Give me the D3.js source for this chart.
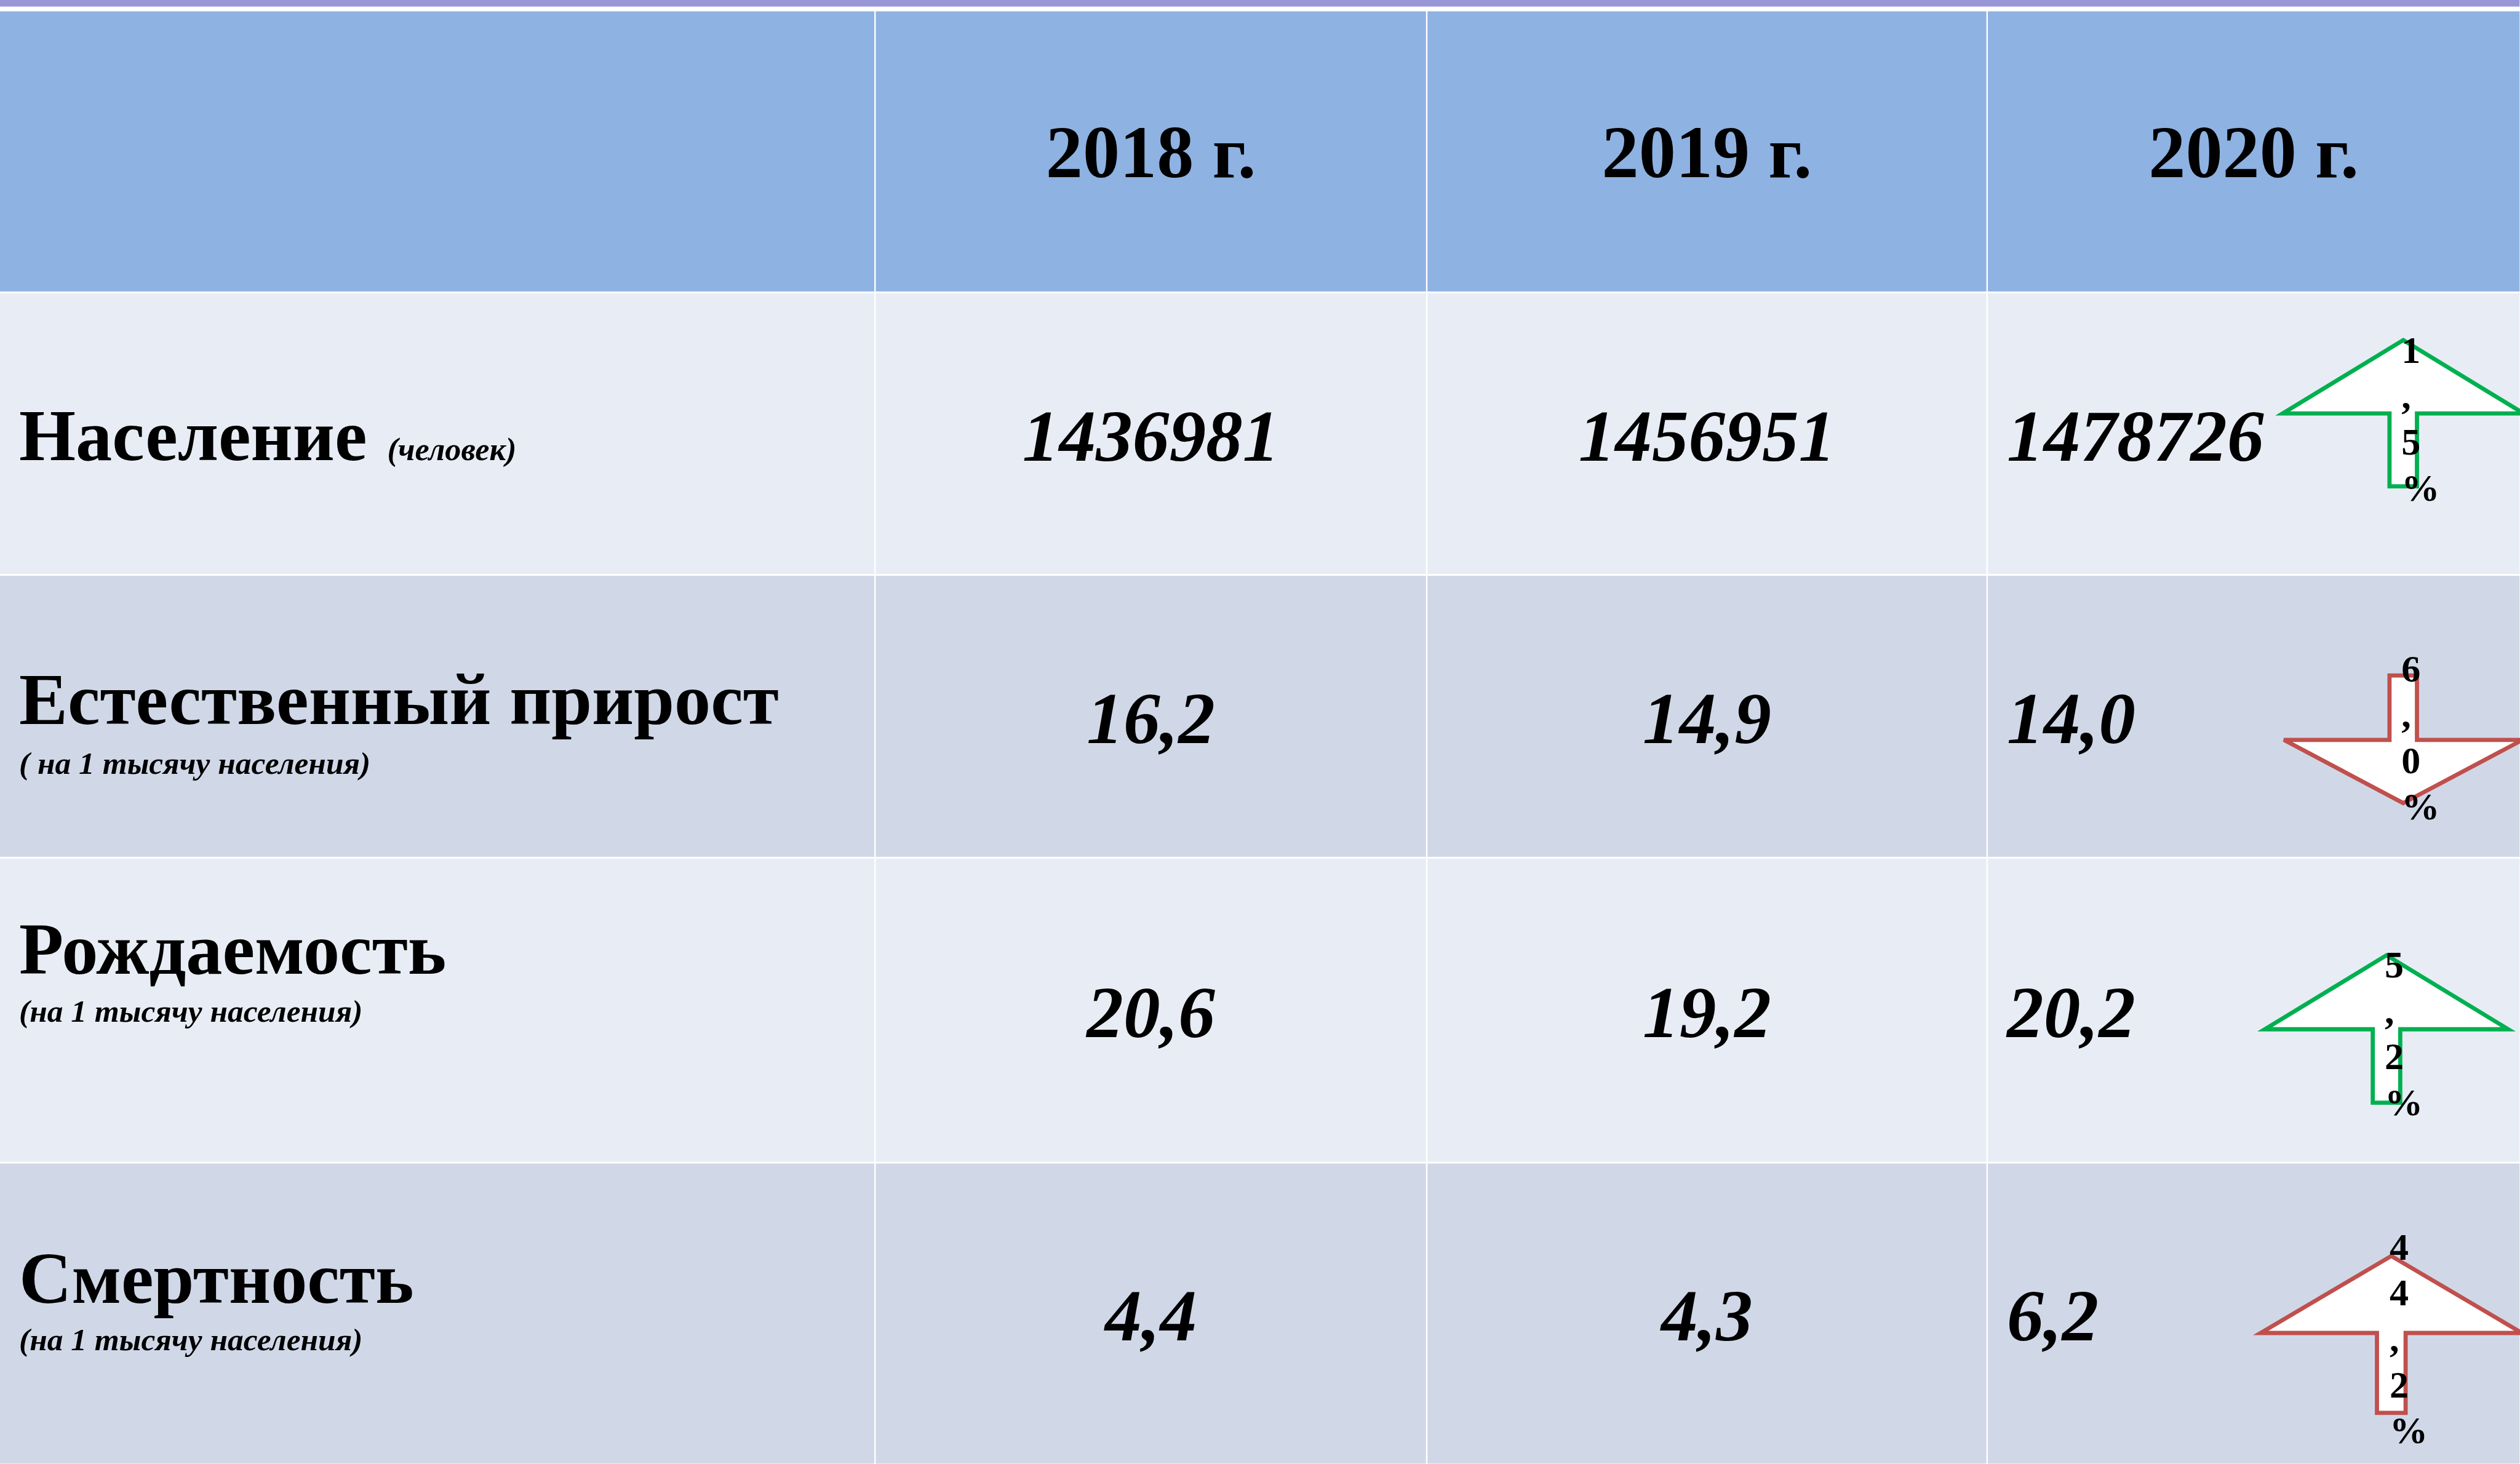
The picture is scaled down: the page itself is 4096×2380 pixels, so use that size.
<!DOCTYPE html>
<html><head><meta charset="utf-8">
<script src="https://cdn.jsdelivr.net/npm/d3@7"></script>
<style>html,body{margin:0;padding:0;background:#fff;overflow:hidden}</style>
</head><body><svg id="c" width="4096" height="2380"></svg>
<script>
// ---------- data ----------
const years = ["2018 г.", "2019 г.", "2020 г."];
const indicators = ["Население", "Естественный прирост", "Рождаемость", "Смертность"];
const units = ["(человек)", "( на 1 тысячу населения)", "(на 1 тысячу населения)", "(на 1 тысячу населения)"];
const values2018 = [1436981, 16.2, 20.6, 4.4];
const values2019 = [1456951, 14.9, 19.2, 4.3];
const values2020 = [1478726, 14.0, 20.2, 6.2];
const change2020 = [1.5, -6.0, 5.2, 44.2];      // % change, sign = arrow direction
const upIsGood = [true, true, true, false];

// ---------- layout (reference px, scaled by 0.97) ----------
const S = 0.97;
const svg = d3.select("#c");
const g = svg.append("g").attr("transform", `scale(${S})`);
const W = 4222, H = 2453;
const colEdges = [[0, 1465], [1467.5, 2389.5], [2392, 3328.5], [3331, 4222]];
const rowEdges = [[19, 488.5], [491.5, 962], [965, 1436], [1439, 1947], [1950, 2453]];
const colX = d3.scaleOrdinal().domain([0,1,2,3]).range(colEdges);
const rowY = d3.scaleOrdinal().domain([0,1,2,3,4]).range(rowEdges);
const rowFill = ["#8eb2e2", "#e8edf5", "#d0d8e8", "#e8edf5", "#d0d8e8"];
const serif = "'Liberation Serif','Times New Roman',serif";

// top bar
g.append("rect").attr("x",0).attr("y",0).attr("width",W).attr("height",11).attr("fill","#9896d6");

// cells
const cells = [];
for (let r = 0; r < 5; r++) for (let c = 0; c < 4; c++) cells.push({r, c});
g.selectAll("rect.cell").data(cells).join("rect").attr("class","cell")
  .attr("x", d => colX(d.c)[0]).attr("width", d => colX(d.c)[1] - colX(d.c)[0])
  .attr("y", d => rowY(d.r)[0]).attr("height", d => rowY(d.r)[1] - rowY(d.r)[0])
  .attr("fill", d => rowFill[d.r]);

const mid = r => (rowY(r)[0] + rowY(r)[1]) / 2;
const cmid = c => (colX(c)[0] + colX(c)[1]) / 2;

// header
g.selectAll("text.year").data(years).join("text").attr("class","year")
  .attr("x", (d,i) => cmid(i+1)).attr("y", mid(0) + 43)
  .attr("text-anchor","middle").attr("font-family", serif).attr("font-weight","bold")
  .attr("font-size", 124).attr("fill","#000").text(d => d);

// row labels
const labelBase = [771, 1213, 1632, 2184];
const unitBase = [771, 1297, 1712, 2263];
g.selectAll("text.lab").data(indicators).join("text").attr("class","lab")
  .attr("x", 32).attr("y", (d,i) => labelBase[i])
  .attr("font-family", serif).attr("font-weight","bold").attr("font-size",122)
  .attr("fill","#000").text(d => d);
g.selectAll("text.unit").data(units).join("text").attr("class","unit")
  .attr("x", (d,i) => i === 0 ? 649 : 32).attr("y", (d,i) => unitBase[i])
  .attr("font-family", serif).attr("font-weight","bold").attr("font-style","italic")
  .attr("font-size", (d,i) => i === 0 ? 54 : 53).attr("fill","#000").text(d => d);

// values
const fmt = (v, i) => i === 0 ? d3.format("d")(v) : d3.format(".1f")(v).replace(".", ",");
const series = [values2018, values2019, values2020];
series.forEach((vals, k) => {
  g.selectAll(`text.v${k}`).data(vals).join("text").attr("class", `v${k}`)
    .attr("x", k < 2 ? cmid(k+1) : colX(3)[0] + 32)
    .attr("y", (d,i) => mid(i+1) + 45)
    .attr("text-anchor", k < 2 ? "middle" : "start")
    .attr("font-family", serif).attr("font-weight","bold").attr("font-style","italic")
    .attr("font-size", 123).attr("fill","#000").text((d,i) => fmt(d,i));
});

// arrows
const arrowGeom = [
  {cx: 4027, a: 570,  b: 693,  e: 815,  hw: 202, sw: 23, t0: 608},
  {cx: 4027, a: 1346, b: 1240, e: 1132, hw: 200, sw: 23, t0: 1142},
  {cx: 3999, a: 1601, b: 1725, e: 1848, hw: 204, sw: 23, t0: 1638},
  {cx: 4007, a: 2105, b: 2234, e: 2368, hw: 219, sw: 24, t0: 2111}
];
const line = d3.line();
change2020.forEach((ch, i) => {
  const gm = arrowGeom[i];
  const good = (ch > 0) === upIsGood[i];
  const col = good ? "#00b050" : "#c0504d";
  const pts = [
    [gm.cx, gm.a], [gm.cx + gm.hw, gm.b], [gm.cx + gm.sw, gm.b], [gm.cx + gm.sw, gm.e],
    [gm.cx - gm.sw, gm.e], [gm.cx - gm.sw, gm.b], [gm.cx - gm.hw, gm.b]
  ];
  g.append("path").attr("d", line(pts) + "Z").attr("fill","#fff")
    .attr("stroke", col).attr("stroke-width", 7).attr("stroke-linejoin","miter");
  const label = d3.format(".1f")(Math.abs(ch)).replace(".", ",") + "%";
  const t = g.append("text").attr("font-family", serif).attr("font-weight","bold")
    .attr("font-size", 64).attr("fill","#000");
  label.split("").forEach((chr, j) => {
    t.append("tspan").attr("x", gm.cx - 3).attr("y", gm.t0 + j * 77).text(chr);
  });
});
</script></body></html>
